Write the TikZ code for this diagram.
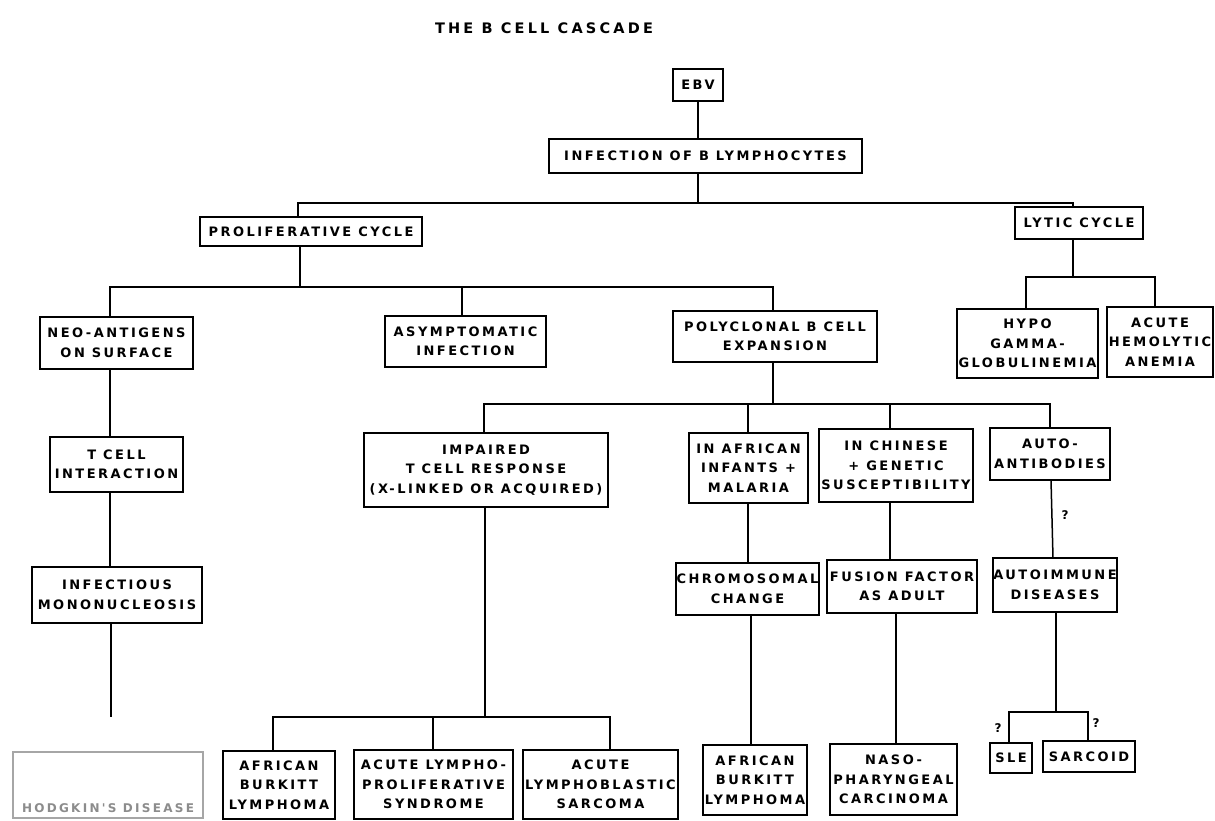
\documentclass[tikz,border=0pt]{standalone}
\usepackage{fontspec}
\newfontfamily\labfont{DejaVu Sans}[LetterSpace=19]
\newfontfamily\titfont{DejaVu Sans}[LetterSpace=22]
\tikzset{
  box/.style={draw=black, line width=1.8pt, align=center, inner sep=0.5pt,
    font=\labfont\bfseries\fontsize{13}{19.5}\selectfont},
  fadedbox/.style={draw=black!35, line width=1.5pt, align=center, inner sep=1pt},
  conn/.style={draw=black, line width=1.5pt},
  qmark/.style={font=\labfont\bfseries\fontsize{12}{13}\selectfont},
  titletext/.style={font=\titfont\bfseries\fontsize{14.5}{16}\selectfont}
}
\begin{document}
\begin{tikzpicture}[x=1pt,y=-1pt]
\useasboundingbox[fill=white] (0,0) rectangle (1215,821);

\node[titletext] (title) at (544,28) {THE B CELL CASCADE};

% level 0-1
\node[box, minimum width=50, minimum height=32] (ebv) at (698,85) {EBV};
\node[box, minimum width=313, minimum height=34] (inf) at (705.5,156) {INFECTION OF B LYMPHOCYTES};

% level 2
\node[box, minimum width=222, minimum height=29] (pro) at (311,231.5) {PROLIFERATIVE CYCLE};
\node[box, minimum width=128, minimum height=32] (lyt) at (1079,223) {LYTIC CYCLE};

% level 3
\node[box, minimum width=153, minimum height=52] (neo) at (116.5,343) {NEO-ANTIGENS\\ON SURFACE};
\node[box, minimum width=161, minimum height=51] (asy) at (465.5,341.5) {ASYMPTOMATIC\\INFECTION};
\node[box, minimum width=204, minimum height=51] (pol) at (775,336.5) {POLYCLONAL B CELL\\EXPANSION};
\node[box, minimum width=141, minimum height=69] (hyp) at (1027.5,343.5) {HYPO\\GAMMA-\\GLOBULINEMIA};
\node[box, minimum width=106, minimum height=70] (hem) at (1160,342) {ACUTE\\HEMOLYTIC\\ANEMIA};

% level 4
\node[box, minimum width=133, minimum height=55] (tce) at (116.5,464.5) {T CELL\\INTERACTION};
\node[box, minimum width=244, minimum height=74] (imp) at (486,470) {IMPAIRED\\T CELL RESPONSE\\(X-LINKED OR ACQUIRED)};
\node[box, minimum width=119, minimum height=70] (afi) at (748.5,468) {IN AFRICAN\\INFANTS +\\MALARIA};
\node[box, minimum width=154, minimum height=73] (chi) at (896,465.5) {IN CHINESE\\+ GENETIC\\SUSCEPTIBILITY};
\node[box, minimum width=120, minimum height=52] (aut) at (1050,454) {AUTO-\\ANTIBODIES};

% level 5
\node[box, minimum width=170, minimum height=56] (mono) at (117,595) {INFECTIOUS\\MONONUCLEOSIS};
\node[box, minimum width=139, minimum height=52] (chr) at (747.5,589) {CHROMOSOMAL\\CHANGE};
\node[box, minimum width=150, minimum height=53] (fus) at (902,586.5) {FUSION FACTOR\\AS ADULT};
\node[box, minimum width=124, minimum height=54] (aid) at (1055,585) {AUTOIMMUNE\\DISEASES};

% level 6
\node[fadedbox, minimum width=190, minimum height=66] (hod) at (108,785) {};
\node[font=\labfont\bfseries\fontsize{12}{13}\selectfont, text=black!45] (hodtext) at (108,808) {HODGKIN'S DISEASE};
\node[box, minimum width=112, minimum height=68] (abl) at (279,785) {AFRICAN\\BURKITT\\LYMPHOMA};
\node[box, minimum width=159, minimum height=69] (alp) at (433.5,784.5) {ACUTE LYMPHO-\\PROLIFERATIVE\\SYNDROME};
\node[box, minimum width=155, minimum height=69] (als) at (600.5,784.5) {ACUTE\\LYMPHOBLASTIC\\SARCOMA};
\node[box, minimum width=104, minimum height=70] (abr) at (755,780) {AFRICAN\\BURKITT\\LYMPHOMA};
\node[box, minimum width=127, minimum height=71] (naso) at (893.5,779.5) {NASO-\\PHARYNGEAL\\CARCINOMA};
\node[box, minimum width=42, minimum height=30] (sle) at (1011,758) {SLE};
\node[box, minimum width=92, minimum height=31] (sar) at (1089,756.5) {SARCOID};

% junction coordinates
\coordinate (j1) at (698,203);
\coordinate (j1l) at (298,203);
\coordinate (j1r) at (1073,203);
\coordinate (j2) at (300,287);
\coordinate (j2l) at (110,287);
\coordinate (j2m) at (462,287);
\coordinate (j2r) at (773,287);
\coordinate (j3) at (1073,277);
\coordinate (j3l) at (1026,277);
\coordinate (j3r) at (1155,277);
\coordinate (j4) at (773,404);
\coordinate (j4a) at (484,404);
\coordinate (j4b) at (748,404);
\coordinate (j4c) at (890,404);
\coordinate (j4d) at (1050,404);
\coordinate (j5) at (485,717);
\coordinate (j5a) at (273,717);
\coordinate (j5b) at (433,717);
\coordinate (j5c) at (610,717);
\coordinate (j6) at (1056,712);
\coordinate (j6a) at (1009,712);
\coordinate (j6b) at (1088,712);
\coordinate (monoend) at (111,717);

% connectors
\draw[conn] (ebv.south) -- (ebv.south |- inf.north);
\draw[conn] (inf.south -| j1) -- (j1);
\draw[conn] (j1l |- pro.north) -- (j1l) -- (j1r) -- (j1r |- lyt.north);

\draw[conn] (j2 |- pro.south) -- (j2);
\draw[conn] (j2l |- neo.north) -- (j2l) -- (j2r) -- (j2r |- pol.north);
\draw[conn] (j2m) -- (j2m |- asy.north);

\draw[conn] (j3 |- lyt.south) -- (j3);
\draw[conn] (j3l |- hyp.north) -- (j3l) -- (j3r) -- (j3r |- hem.north);

\draw[conn] (j2l |- neo.south) -- (j2l |- tce.north);
\draw[conn] (j2l |- tce.south) -- (j2l |- mono.north);
\draw[conn] (monoend |- mono.south) -- (monoend);

\draw[conn] (j4 |- pol.south) -- (j4);
\draw[conn] (j4a |- imp.north) -- (j4a) -- (j4d) -- (j4d |- aut.north);
\draw[conn] (j4b) -- (j4b |- afi.north);
\draw[conn] (j4c) -- (j4c |- chi.north);

\draw[conn] (j4b |- afi.south) -- (j4b |- chr.north);
\draw[conn] (751,615) -- (751,745);
\draw[conn] (j4c |- chi.south) -- (j4c |- fus.north);
\draw[conn] (896,613) -- (896,744);

\draw[conn] (1051,480) -- (1053,558);
\node[qmark] (q1) at (1065,515) {?};
\draw[conn] (j6 |- aid.south) -- (j6);
\draw[conn] (j6a |- sle.north) -- (j6a) -- (j6b) -- (j6b |- sar.north);
\node[qmark] (q2) at (998,728) {?};
\node[qmark] (q3) at (1096,723) {?};

\draw[conn] (j5 |- imp.south) -- (j5);
\draw[conn] (j5a |- abl.north) -- (j5a) -- (j5c) -- (j5c |- als.north);
\draw[conn] (j5b) -- (j5b |- alp.north);
\end{tikzpicture}
\end{document}
